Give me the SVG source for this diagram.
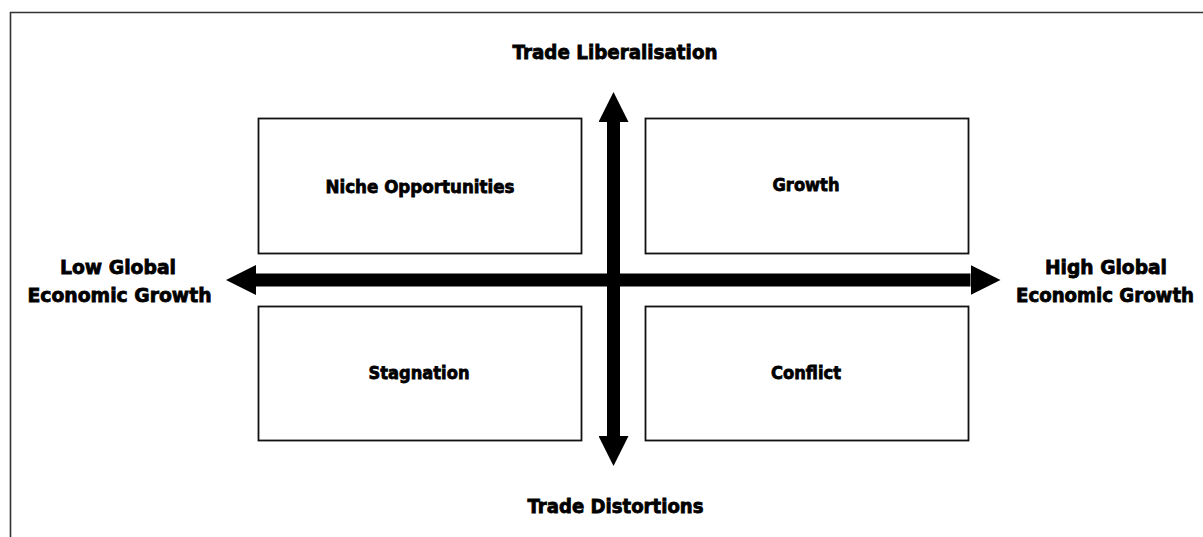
<svg xmlns="http://www.w3.org/2000/svg" width="1203" height="537" viewBox="0 0 1203 537">
  <style>
    .box { fill: #fff; stroke: #111; stroke-width: 1.8; }
    .lbl { font-family: "DejaVu Sans", "Liberation Sans", sans-serif; font-weight: bold; fill: #000; stroke: #000; stroke-width: 0.8; text-anchor: middle; }
    .q { font-size: 18.5px; }
    .ax { font-size: 19px; }
    .axis { stroke: #000; stroke-width: 13; fill: none; }
  </style>
  <defs>
    <marker id="head" markerUnits="userSpaceOnUse" markerWidth="30" markerHeight="30" refX="0" refY="15" orient="auto-start-reverse" viewBox="0 0 30 30">
      <path d="M0,0 L30,15 L0,30 Z" fill="#000"/>
    </marker>
  </defs>

  <rect width="1203" height="537" fill="#fff"/>
  <!-- frame (open on the right and bottom) -->
  <path d="M10.5,540 V12.5 H1206" fill="none" stroke="#333" stroke-width="1.6"/>

  <!-- quadrants -->
  <g id="niche-opportunities">
    <rect class="box" x="258.5" y="118.5" width="323" height="135"/>
    <text class="lbl q" x="420" y="192.5" textLength="189" lengthAdjust="spacingAndGlyphs">Niche Opportunities</text>
  </g>
  <g id="growth">
    <rect class="box" x="645.5" y="118.5" width="323" height="135"/>
    <text class="lbl q" x="806" y="191" textLength="67" lengthAdjust="spacingAndGlyphs">Growth</text>
  </g>
  <g id="stagnation">
    <rect class="box" x="258.5" y="306.5" width="323" height="134"/>
    <text class="lbl q" x="419" y="379" textLength="101" lengthAdjust="spacingAndGlyphs">Stagnation</text>
  </g>
  <g id="conflict">
    <rect class="box" x="645.5" y="306.5" width="323" height="134"/>
    <text class="lbl q" x="806" y="379" textLength="70" lengthAdjust="spacingAndGlyphs">Conflict</text>
  </g>

  <!-- axes -->
  <g id="connectors">
    <line class="axis" x1="613.5" y1="122" x2="613.5" y2="436" marker-start="url(#head)" marker-end="url(#head)"/>
    <line class="axis" x1="256" y1="280" x2="970.5" y2="280" marker-start="url(#head)" marker-end="url(#head)"/>
  </g>

  <!-- axis labels -->
  <g id="trade-liberalisation">
    <text class="lbl ax" x="615" y="59" textLength="205" lengthAdjust="spacingAndGlyphs">Trade Liberalisation</text>
  </g>
  <g id="trade-distortions">
    <text class="lbl ax" x="615.5" y="512.5" textLength="176" lengthAdjust="spacingAndGlyphs">Trade Distortions</text>
  </g>
  <g id="low-global-growth">
    <text class="lbl ax" x="118" y="274" textLength="116" lengthAdjust="spacingAndGlyphs">Low Global</text>
    <text class="lbl ax" x="119.5" y="301.5" textLength="184" lengthAdjust="spacingAndGlyphs">Economic Growth</text>
  </g>
  <g id="high-global-growth">
    <text class="lbl ax" x="1106" y="274" textLength="122" lengthAdjust="spacingAndGlyphs">High Global</text>
    <text class="lbl ax" x="1105" y="301.5" textLength="178" lengthAdjust="spacingAndGlyphs">Economic Growth</text>
  </g>
</svg>
